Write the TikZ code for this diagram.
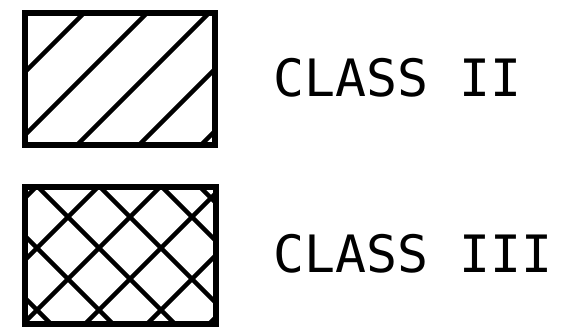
\documentclass[tikz,border=0pt]{standalone}
\usepackage{fontspec}
\newfontfamily\plotfont{DejaVu Sans Mono}
\begin{document}
\begin{tikzpicture}[x=1pt,y=-1pt,
  legendbox/.style={draw=black, line width=5.5pt, inner sep=0pt, outer sep=0pt},
  hatch/.style={line width=4.4pt, black},
  legendlabel/.style={font=\plotfont\fontsize{51.5}{60}\selectfont, inner sep=0pt, anchor=base west}]
\useasboundingbox (0,0) rectangle (570,336);
% Class II box
\node[legendbox, minimum width=190pt, minimum height=132pt] (b1) at (120,79) {};
\begin{scope}
  \clip (b1.north west) rectangle (b1.south east);
  \foreach \c in {97,160,222,284,346}
    \draw[hatch] (\c,0) -- (\c-300,300);
\end{scope}
% Class III box
\node[legendbox, minimum width=191pt, minimum height=137pt] (b2) at (120.5,255.5) {};
\begin{scope}
  \clip (b2.north west) rectangle (b2.south east);
  \foreach \c in {223,285,347,409,471,533}
    \draw[hatch] (\c,0) -- (\c-400,400);
  \foreach \d in {-273,-211,-149,-87,-25,13}
    \draw[hatch] (\d,0) -- (\d+400,400);
\end{scope}
\node[legendlabel] (t2) at (273,97) {CLASS II};
\node[legendlabel] (t3) at (273,273) {CLASS III};
\end{tikzpicture}
\end{document}
